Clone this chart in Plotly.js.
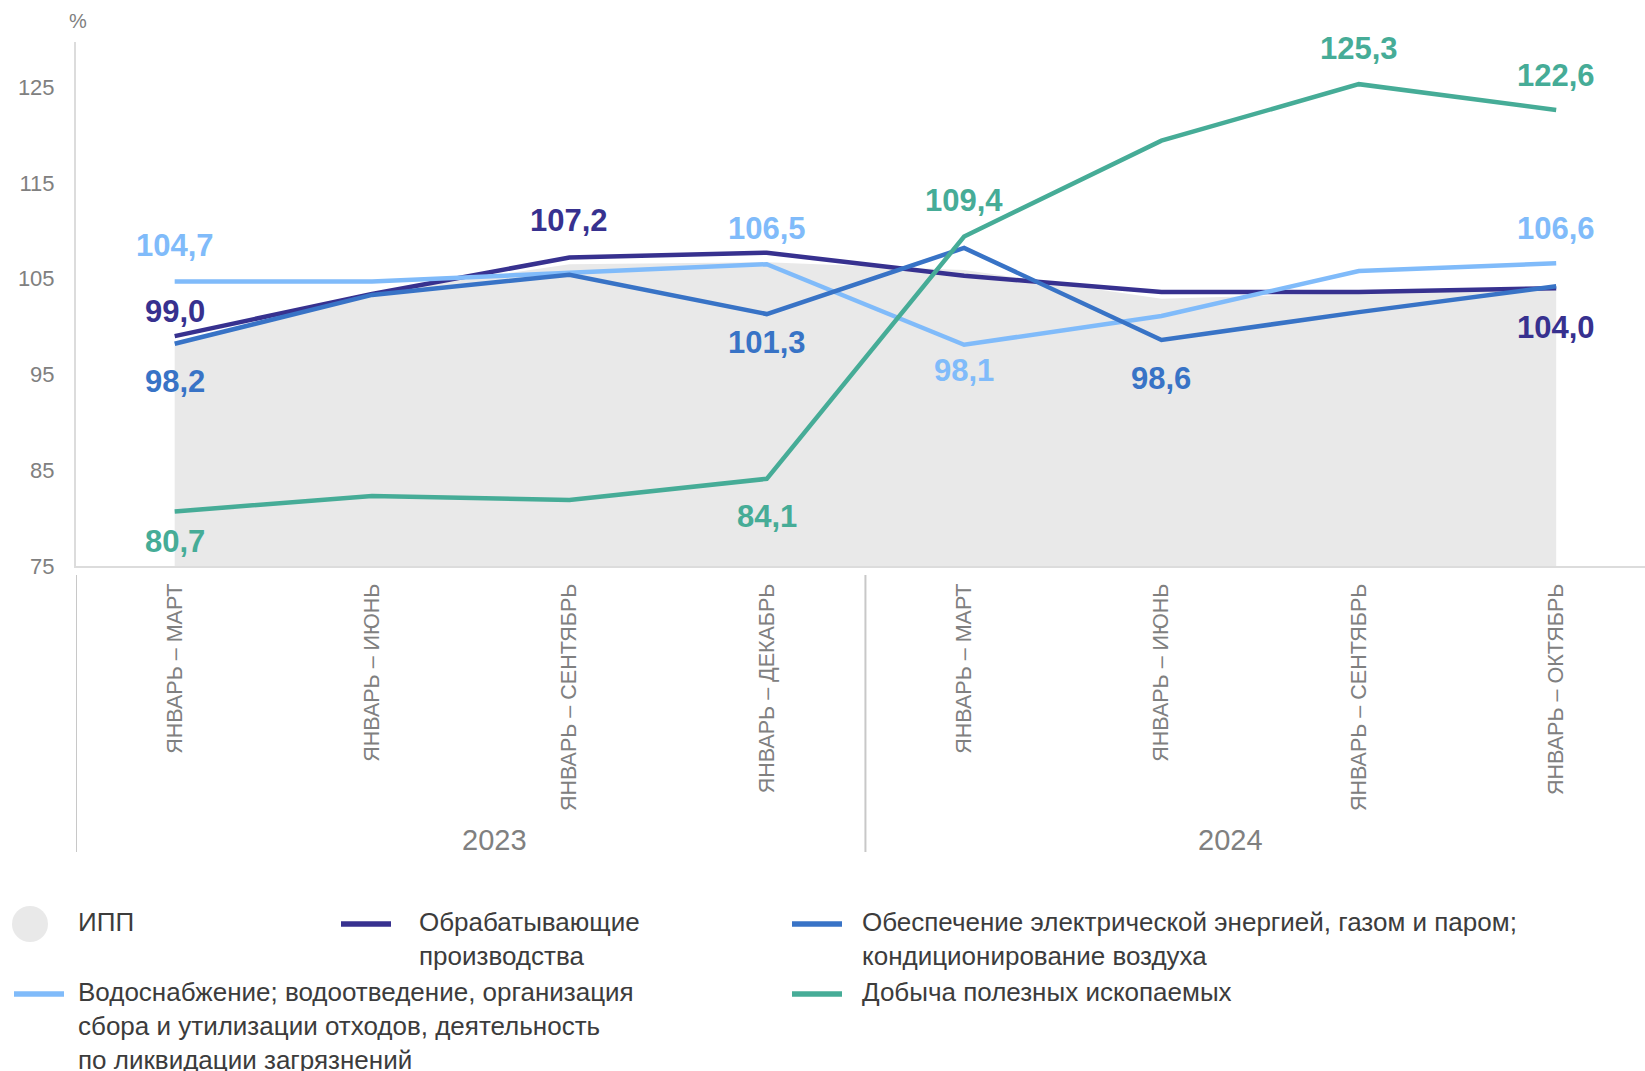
<!DOCTYPE html>
<html>
<head>
<meta charset="utf-8">
<script src="https://cdn.plot.ly/plotly-3.0.1.min.js"></script>
<style>
  html, body { margin: 0; padding: 0; background: #fff; }
  #chart { width: 1645px; height: 1071px; }
</style>
</head>
<body>
<div id="chart"></div>
<script>
// Periods (cumulative from January), two years
const periods = ['ЯНВАРЬ – МАРТ', 'ЯНВАРЬ – ИЮНЬ', 'ЯНВАРЬ – СЕНТЯБРЬ', 'ЯНВАРЬ – ДЕКАБРЬ',
                 'ЯНВАРЬ – МАРТ', 'ЯНВАРЬ – ИЮНЬ', 'ЯНВАРЬ – СЕНТЯБРЬ', 'ЯНВАРЬ – ОКТЯБРЬ'];
const years = ['2023', '2024'];

// Index values, %
const ipp = [98.0, 103.5, 106.5, 106.7, 105.9, 102.9, 103.5, 104.1];
const manufacturing = [99.0, 103.4, 107.2, 107.7, 105.3, 103.6, 103.6, 104.0];
const water = [104.7, 104.7, 105.6, 106.5, 98.1, 101.1, 105.8, 106.6];
const electricity = [98.2, 103.3, 105.4, 101.3, 108.2, 98.6, 101.5, 104.2];
const mining = [80.7, 82.3, 81.9, 84.1, 109.4, 119.4, 125.3, 122.6];

// Which points carry a value label
const manufacturingLabeled = [0, 2, 7];
const waterLabeled = [0, 3, 4, 7];
const electricityLabeled = [0, 3, 5];
const miningLabeled = [0, 3, 4, 6, 7];

const names = {
  ipp: 'ИПП',
  manufacturing: 'Обрабатывающие<br>производства',
  electricity: 'Обеспечение электрической энергией, газом и паром;<br>кондиционирование воздуха',
  water: 'Водоснабжение; водоотведение, организация<br>сбора и утилизации отходов, деятельность<br>по ликвидации загрязнений',
  mining: 'Добыча полезных ископаемых'
};

const colors = {
  ipp: '#e9e9e9',
  manufacturing: '#37318f',
  water: '#80bbfa',
  electricity: '#3873c6',
  mining: '#46ac97'
};

const FONT = 'Liberation Sans, Arial, sans-serif';
const GREY = '#808080';
const W = 1645, H = 1071;
const M = {l: 76, r: 0, t: 42, b: 505};

const xs = periods.map((_, i) => i);

// pixel -> paper helpers (for the hand-laid legend)
const px2paper = px => (px - M.l) / (W - M.l - M.r);
const py2paper = py => (H - M.b - py) / (H - M.t - M.b);

function lineTrace(name, ys, color) {
  return {
    x: xs, y: ys, type: 'scatter', mode: 'lines', name: name,
    line: {color: color, width: 4.5},
    hoverinfo: 'y', showlegend: false
  };
}

const traces = [
  {x: xs, y: ipp, type: 'scatter', mode: 'lines', fill: 'tozeroy',
   fillcolor: colors.ipp, line: {width: 0, color: colors.ipp}, name: names.ipp,
   hoverinfo: 'y', showlegend: false},
  lineTrace(names.manufacturing, manufacturing, colors.manufacturing),
  lineTrace(names.water, water, colors.water),
  lineTrace(names.electricity, electricity, colors.electricity),
  lineTrace(names.mining, mining, colors.mining)
];

const fmt = v => v.toFixed(1).replace('.', ',');

// value labels: shift in px (positive = above the point)
function valueLabels(ys, idx, shifts, color) {
  return idx.map((i, k) => ({
    x: i, y: ys[i], xref: 'x', yref: 'y', text: fmt(ys[i]),
    showarrow: false, yshift: shifts[k], xanchor: 'center', yanchor: 'middle',
    font: {family: FONT, size: 31, color: color, weight: 'bold'}
  }));
}

const annotations = [
  ...valueLabels(water, waterLabeled, [36, 36, -26, 35], colors.water),
  ...valueLabels(manufacturing, manufacturingLabeled, [25, 37, -39], colors.manufacturing),
  ...valueLabels(electricity, electricityLabeled, [-38, -28, -39], colors.electricity),
  ...valueLabels(mining, miningLabeled, [-30, -38, 36, 36, 35], colors.mining),
  {x: 0.001, y: 1, xref: 'paper', yref: 'paper', text: '%', showarrow: false,
   xanchor: 'center', yanchor: 'bottom', yshift: 8, font: {family: FONT, size: 20, color: GREY}},
  {x: 1.62, y: py2paper(840), xref: 'x', yref: 'paper', text: years[0], showarrow: false,
   xanchor: 'center', yanchor: 'middle', font: {family: FONT, size: 29, color: GREY}},
  {x: 5.35, y: py2paper(840), xref: 'x', yref: 'paper', text: years[1], showarrow: false,
   xanchor: 'center', yanchor: 'middle', font: {family: FONT, size: 29, color: GREY}}
];

// year dividers under the axis
const shapes = [-0.5, 3.5].map(xv => ({
  type: 'line', xref: 'x', yref: 'paper', x0: xv, x1: xv,
  y0: py2paper(575), y1: py2paper(852), line: {color: '#c8c8c8', width: 2}
}));

// custom legend
const legendItems = [
  {key: 'ipp', kind: 'dot', mx: 30, my: 924, tx: 76},
  {key: 'manufacturing', kind: 'line', mx: 341, my: 924, tx: 417},
  {key: 'electricity', kind: 'line', mx: 792, my: 924, tx: 860},
  {key: 'water', kind: 'line', mx: 14, my: 994, tx: 76},
  {key: 'mining', kind: 'line', mx: 792, my: 994, tx: 860}
];

legendItems.forEach(it => {
  if (it.kind === 'dot') {
    shapes.push({type: 'circle', xref: 'paper', yref: 'paper',
      xsizemode: 'pixel', ysizemode: 'pixel',
      xanchor: px2paper(it.mx), yanchor: py2paper(it.my),
      x0: -18, x1: 18, y0: -18, y1: 18,
      fillcolor: colors[it.key], line: {width: 0}});
  } else {
    shapes.push({type: 'line', xref: 'paper', yref: 'paper',
      x0: px2paper(it.mx), x1: px2paper(it.mx + 50),
      y0: py2paper(it.my), y1: py2paper(it.my),
      line: {color: colors[it.key], width: 5.5}});
  }
  annotations.push({x: px2paper(it.tx), y: py2paper(it.my - 19), xref: 'paper', yref: 'paper',
    text: names[it.key], showarrow: false, xanchor: 'left', yanchor: 'top', align: 'left',
    font: {family: FONT, size: 26, color: '#3c3c3c'}});
});

const layout = {
  width: W, height: H,
  margin: M,
  paper_bgcolor: '#fff', plot_bgcolor: '#fff',
  showlegend: false,
  font: {family: FONT, color: GREY},
  xaxis: {
    range: [-0.5, 7.45], tickvals: xs, ticktext: periods, tickangle: -90,
    showgrid: false, zeroline: false, showline: true, linecolor: '#dcdcdc', linewidth: 2,
    ticks: '', ticklabelstandoff: 7,
    tickfont: {family: FONT, size: 21.5, color: GREY}
  },
  yaxis: {
    range: [75, 129.7], tickvals: [75, 85, 95, 105, 115, 125],
    showgrid: false, zeroline: false, showline: true, linecolor: '#dcdcdc', linewidth: 2,
    ticks: '', ticklabelstandoff: 15,
    tickfont: {family: FONT, size: 22, color: GREY}
  },
  annotations: annotations,
  shapes: shapes
};

Plotly.newPlot('chart', traces, layout, {displayModeBar: false, staticPlot: true});
</script>
</body>
</html>
